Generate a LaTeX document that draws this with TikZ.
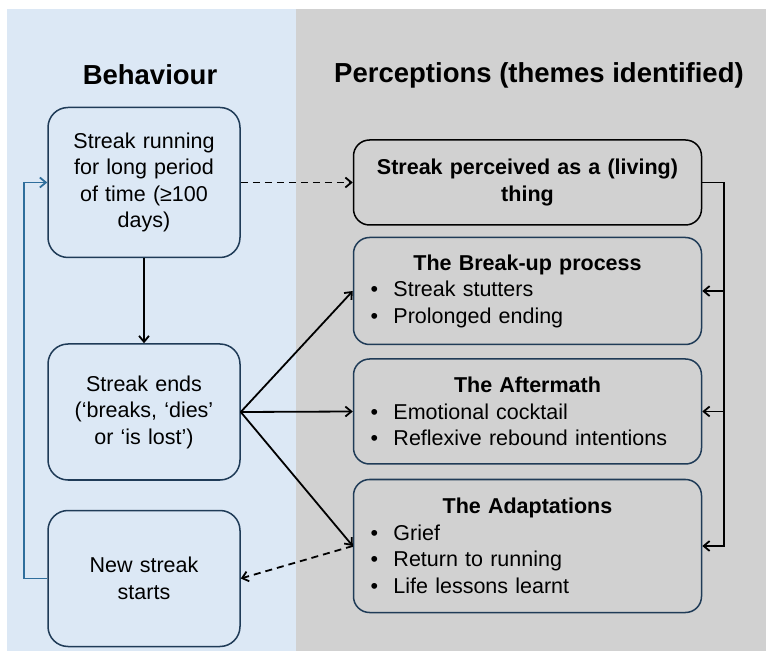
\documentclass[tikz,border=0pt]{standalone}
\usepackage{fontspec}
\setmainfont{Liberation Sans}
\usetikzlibrary{positioning, arrows.meta}
\definecolor{behavbg}{HTML}{DCE8F5}
\definecolor{percbg}{HTML}{D1D1D1}
\definecolor{boxline}{HTML}{1F3B57}
\definecolor{loopblue}{HTML}{2F6E9C}
\setlength{\parindent}{0pt}
\newcommand{\bul}[1]{\hspace*{8pt}\makebox[23pt][l]{\textbullet}#1\par}

\begin{document}
\begin{tikzpicture}[
    x=1pt, y=1pt,
    node distance=12pt, >={Straight Barb[length=6pt,width=10pt]},
    title/.style={font=\fontsize{27.5}{32}\selectfont\bfseries},
    behav/.style={rectangle, draw=boxline, line width=1.5pt, fill=behavbg, text width=180pt, align=center, rounded corners=20pt, inner xsep=6pt, font=\fontsize{21.5}{26.5}\selectfont},
    theme/.style={rectangle, draw=boxline, line width=1.5pt, fill=percbg, text width=330pt, align=left, rounded corners=16pt, inner xsep=9pt, font=\fontsize{21.5}{26.5}\selectfont},
    link/.style={line width=1.8pt},
    dashlink/.style={line width=1.8pt, dash pattern=on 7pt off 5pt},
]

% panels
\fill [behavbg] (7,3) rectangle (296,645);
\fill [percbg] (296,3) rectangle (766,645);
\useasboundingbox (0,0) rectangle (766,654);

\node [title] (behavtitle) at (150,579) {Behaviour};
\node [title] (perctitle) at (539,579) {Perceptions (themes identified)};

% behaviour column
\node [behav, minimum height=150pt] (running) at (144,471.5) {Streak running\\for long period\\of time (≥100\\days)};
\node [behav, minimum height=136pt, below=85pt of running] (ends) {Streak ends\\(‘breaks, ‘dies’\\or ‘is lost’)};
\node [behav, minimum height=136pt, below=29pt of ends] (newstreak) {New streak\\starts};

% themes
\node [theme, draw=black, minimum height=85pt, right=112pt of running] (living) {{\centering\bfseries Streak perceived as a (living)\\thing\par}};
\node [theme, minimum height=107pt, below=11pt of living] (breakup) {{\centering\bfseries The Break-up process\par}\bul{Streak stutters}\bul{Prolonged ending}};
\node [theme, minimum height=105pt, below=13pt of breakup] (aftermath) {{\centering\bfseries The Aftermath\par}\bul{Emotional cocktail}\bul{Reflexive rebound intentions}};
\node [theme, minimum height=133pt, below=14pt of aftermath] (adapt) {{\centering\bfseries The Adaptations\par}\bul{Grief}\bul{Return to running}\bul{Life lessons learnt}};

\draw [->, link] (running) -- (ends);
\draw [->, dashlink] (running) -- (living);
\draw [->, link] (ends.east) -- (breakup.west);
\draw [->, link] (ends.east) -- (aftermath.west);
\draw [->, link] (ends.east) -- (adapt.west);
\draw [->, dashlink] (adapt.west) -- (newstreak.east);
\draw [->, link, loopblue] (newstreak.west) -- ++(-23,0) |- (running.west);

% rail on the right
\draw [->, link] (living.east) -- ++(22,0) coordinate (rail) |- (adapt.east);
\draw [->, link] (rail |- breakup.east) -- (breakup.east);
\draw [->, link] (rail |- aftermath.east) -- (aftermath.east);
\end{tikzpicture}
\end{document}
